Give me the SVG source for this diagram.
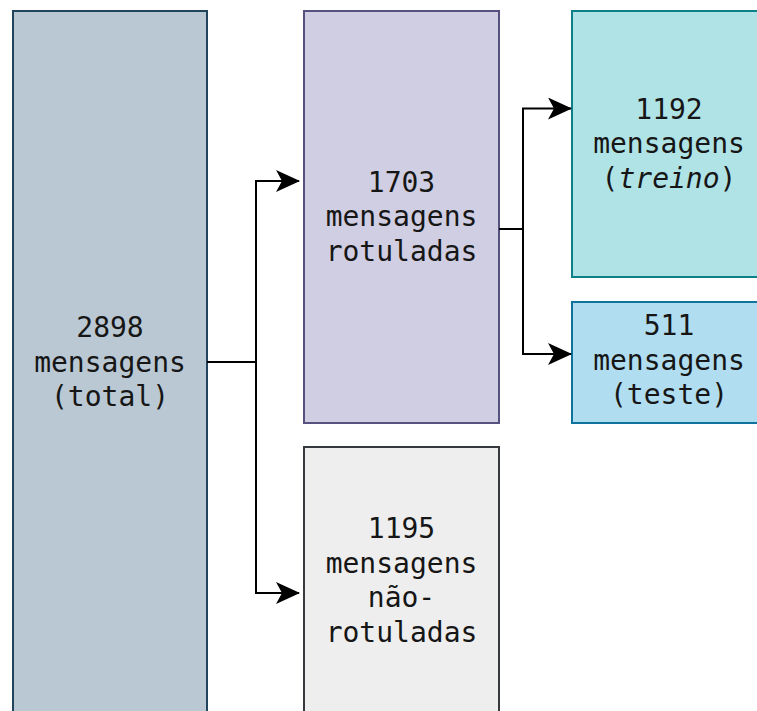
<svg xmlns="http://www.w3.org/2000/svg" width="757" height="711" viewBox="0 0 757 711">
  <style>
    .box { stroke-width: 2; }
    .lbl { font-family: "DejaVu Sans Mono", "Liberation Mono", monospace; font-size: 28px; fill: #161616; text-anchor: middle; }
    .wire { fill: none; stroke: #000; stroke-width: 2; }
  </style>
  <defs>
    <marker id="head" viewBox="0 0 24 22" refX="23" refY="11" markerWidth="24" markerHeight="22" markerUnits="userSpaceOnUse" orient="auto">
      <path d="M0,0 L24,11 L0,22 L6,11 Z" fill="#000"/>
    </marker>
  </defs>
  <rect width="757" height="711" fill="#fff"/>

  <g id="total">
    <rect class="box" x="13" y="11" width="194" height="712" fill="#bac8d3" stroke="#23445d"/>
    <text class="lbl" x="110" y="337">2898</text>
    <text class="lbl" x="110" y="371.5">mensagens</text>
    <text class="lbl" x="110" y="406">(total)</text>
  </g>

  <g id="rotuladas">
    <rect class="box" x="304" y="11" width="195" height="412" fill="#d0cee2" stroke="#56517e"/>
    <text class="lbl" x="401.5" y="192">1703</text>
    <text class="lbl" x="401.5" y="226">mensagens</text>
    <text class="lbl" x="401.5" y="260.5">rotuladas</text>
  </g>

  <g id="treino">
    <rect class="box" x="572" y="11" width="194" height="266" fill="#b0e3e6" stroke="#0e8088"/>
    <text class="lbl" x="669" y="119">1192</text>
    <text class="lbl" x="669" y="153">mensagens</text>
    <text class="lbl" x="669" y="187.5">(<tspan font-style="italic">treino</tspan>)</text>
  </g>

  <g id="teste">
    <rect class="box" x="572" y="302" width="194" height="121" fill="#b1ddf0" stroke="#10739e"/>
    <text class="lbl" x="669" y="335">511</text>
    <text class="lbl" x="669" y="369.5">mensagens</text>
    <text class="lbl" x="669" y="404">(teste)</text>
  </g>

  <g id="nao-rotuladas">
    <rect class="box" x="304" y="447" width="195" height="276" fill="#eeeeee" stroke="#36393d"/>
    <text class="lbl" x="401.5" y="538">1195</text>
    <text class="lbl" x="401.5" y="572.5">mensagens</text>
    <text class="lbl" x="401.5" y="607">não-</text>
    <text class="lbl" x="401.5" y="641.5">rotuladas</text>
  </g>

  <g id="connectors">
    <path class="wire" d="M207,362 H256 V181 H299" marker-end="url(#head)"/>
    <path class="wire" d="M256,362 V593 H299" marker-end="url(#head)"/>
    <path class="wire" d="M499,229 H523 V108.5 H571" marker-end="url(#head)"/>
    <path class="wire" d="M523,229 V354 H571" marker-end="url(#head)"/>
  </g>
</svg>
